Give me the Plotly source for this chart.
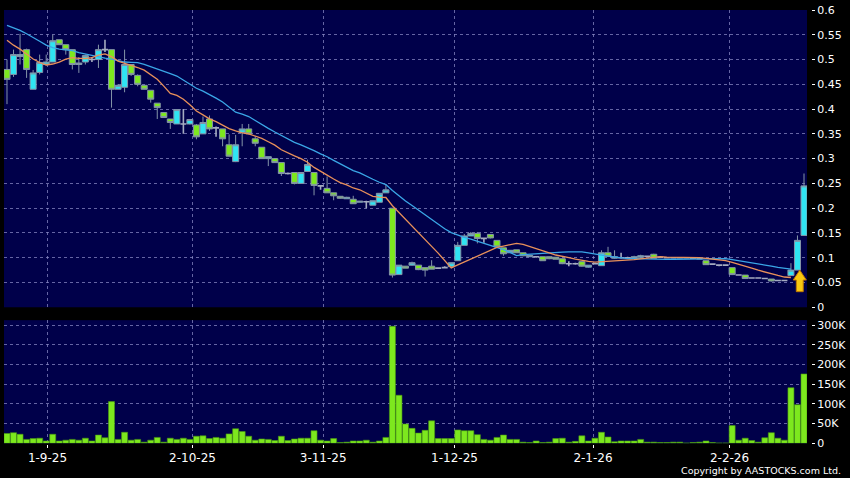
import plotly.graph_objects as go
import pandas as pd

# ---------------- data ----------------
opens = [0.48, 0.47, 0.506, 0.52, 0.44, 0.474, 0.49, 0.495, 0.54, 0.53,
         0.52, 0.49, 0.495, 0.5, 0.5, 0.52, 0.52, 0.44, 0.444, 0.49,
         0.468, 0.448, 0.438, 0.412, 0.393, 0.38, 0.37, 0.37, 0.37, 0.368,
         0.35, 0.38, 0.362, 0.36, 0.328, 0.294, 0.353, 0.36, 0.34, 0.323,
         0.3, 0.3, 0.292, 0.27, 0.272, 0.25, 0.274, 0.272, 0.245, 0.24,
         0.231, 0.224, 0.219, 0.218, 0.212, 0.213, 0.206, 0.212, 0.231, 0.2,
         0.066, 0.083, 0.085, 0.085, 0.08, 0.083, 0.079, 0.08, 0.082, 0.094,
         0.125, 0.144, 0.149, 0.139, 0.147, 0.135, 0.12, 0.11, 0.116, 0.11,
         0.102, 0.102, 0.102, 0.102, 0.101, 0.098, 0.088, 0.088, 0.092, 0.081,
         0.088, 0.084, 0.11, 0.099, 0.1, 0.1, 0.099, 0.101, 0.103, 0.107,
         0.101, 0.1, 0.1, 0.1, 0.1, 0.099, 0.098, 0.094, 0.087, 0.085,
         0.085, 0.08, 0.065, 0.065, 0.059, 0.059, 0.058, 0.057, 0.054, 0.054,
         0.064, 0.075, 0.145]
highs = [0.50, 0.52, 0.552, 0.522, 0.479, 0.51, 0.51, 0.55, 0.54, 0.53,
         0.52, 0.505, 0.51, 0.505, 0.53, 0.54, 0.52, 0.45, 0.52, 0.49,
         0.47, 0.448, 0.438, 0.412, 0.393, 0.38, 0.40, 0.40, 0.38, 0.37,
         0.385, 0.387, 0.365, 0.36, 0.349, 0.348, 0.37, 0.37, 0.345, 0.323,
         0.304, 0.3, 0.292, 0.272, 0.272, 0.272, 0.298, 0.272, 0.247, 0.264,
         0.231, 0.224, 0.223, 0.225, 0.214, 0.215, 0.215, 0.23, 0.248, 0.2,
         0.085, 0.083, 0.092, 0.085, 0.08, 0.095, 0.08, 0.083, 0.09, 0.132,
         0.148, 0.152, 0.152, 0.141, 0.147, 0.135, 0.12, 0.115, 0.116, 0.11,
         0.105, 0.103, 0.102, 0.102, 0.101, 0.098, 0.093, 0.09, 0.092, 0.085,
         0.09, 0.115, 0.122, 0.115, 0.11, 0.102, 0.104, 0.106, 0.104, 0.108,
         0.102, 0.1, 0.1, 0.1, 0.1, 0.099, 0.098, 0.094, 0.087, 0.085,
         0.085, 0.08, 0.065, 0.065, 0.059, 0.059, 0.058, 0.057, 0.054, 0.054,
         0.089, 0.145, 0.27]
lows = [0.41, 0.465, 0.49, 0.463, 0.44, 0.47, 0.488, 0.495, 0.53, 0.51,
        0.48, 0.473, 0.49, 0.495, 0.483, 0.515, 0.403, 0.44, 0.434, 0.467,
        0.446, 0.44, 0.413, 0.38, 0.383, 0.36, 0.37, 0.35, 0.369, 0.339,
        0.35, 0.356, 0.344, 0.325, 0.304, 0.293, 0.325, 0.349, 0.325, 0.3,
        0.285, 0.292, 0.265, 0.268, 0.248, 0.25, 0.273, 0.226, 0.237, 0.231,
        0.216, 0.219, 0.219, 0.209, 0.212, 0.2, 0.206, 0.212, 0.231, 0.06,
        0.066, 0.079, 0.084, 0.075, 0.062, 0.077, 0.078, 0.079, 0.082, 0.094,
        0.125, 0.144, 0.129, 0.13, 0.139, 0.122, 0.104, 0.11, 0.11, 0.103,
        0.102, 0.1, 0.094, 0.097, 0.097, 0.087, 0.083, 0.086, 0.082, 0.08,
        0.087, 0.084, 0.102, 0.098, 0.098, 0.098, 0.099, 0.1, 0.102, 0.099,
        0.1, 0.1, 0.1, 0.1, 0.1, 0.099, 0.098, 0.086, 0.087, 0.083,
        0.085, 0.065, 0.065, 0.057, 0.059, 0.059, 0.058, 0.052, 0.054, 0.054,
        0.063, 0.075, 0.145]
closes = [0.46, 0.51, 0.51, 0.48, 0.473, 0.494, 0.495, 0.538, 0.53, 0.52,
          0.49, 0.493, 0.508, 0.5, 0.52, 0.52, 0.44, 0.448, 0.49, 0.47,
          0.45, 0.44, 0.42, 0.403, 0.383, 0.373, 0.399, 0.37, 0.379, 0.344,
          0.373, 0.36, 0.362, 0.34, 0.305, 0.328, 0.36, 0.35, 0.331, 0.3,
          0.304, 0.292, 0.27, 0.27, 0.25, 0.272, 0.288, 0.246, 0.245, 0.231,
          0.225, 0.22, 0.222, 0.209, 0.214, 0.213, 0.215, 0.23, 0.237, 0.065,
          0.085, 0.079, 0.09, 0.076, 0.075, 0.077, 0.079, 0.08, 0.09, 0.125,
          0.144, 0.149, 0.139, 0.139, 0.14, 0.122, 0.108, 0.115, 0.11, 0.104,
          0.105, 0.102, 0.094, 0.098, 0.097, 0.088, 0.088, 0.088, 0.083, 0.085,
          0.088, 0.11, 0.103, 0.102, 0.1, 0.1, 0.102, 0.104, 0.103, 0.099,
          0.101, 0.1, 0.1, 0.1, 0.1, 0.099, 0.098, 0.086, 0.087, 0.085,
          0.085, 0.066, 0.065, 0.058, 0.059, 0.059, 0.058, 0.053, 0.054, 0.054,
          0.075, 0.135, 0.245]
volumes = [25000, 27000, 23000, 10000, 12000, 13000, 6000, 23000, 6000, 8000,
           10000, 8000, 13000, 6000, 21000, 14000, 106000, 10000, 28000, 8000,
           10000, 3000, 8000, 15000, 3000, 13000, 10000, 13000, 10000, 18000,
           19000, 12000, 15000, 13000, 24000, 37000, 30000, 18000, 8000, 11000,
           10000, 7000, 18000, 7000, 11000, 13000, 13000, 32000, 8000, 6000,
           12000, 2000, 3000, 6000, 6000, 8000, 3000, 6000, 15000, 297000,
           122000, 49000, 38000, 26000, 33000, 57000, 12000, 12000, 12000, 34000,
           32000, 32000, 22000, 10000, 8000, 15000, 21000, 10000, 10000, 3000,
           2000, 6000, 2000, 3000, 12000, 13000, 3000, 5000, 19000, 6000,
           13000, 28000, 16000, 4000, 6000, 6000, 6000, 10000, 3000, 3000,
           2000, 2000, 3000, 3000, 1000, 2000, 3000, 6000, 2000, 1000,
           1000, 45000, 8000, 13000, 7000, 3000, 14000, 27000, 13000, 8000,
           141000, 98000, 176000]
# moving-average values at the start of the window (read from the picture,
# they depend on closes before the first visible day)
ma10_head = [0.539, 0.529, 0.521, 0.511, 0.501, 0.494, 0.489, 0.491, 0.495]
ma20_head = [0.569, 0.564, 0.559, 0.552, 0.545, 0.537, 0.529, 0.524, 0.521, 0.52,
             0.518, 0.514, 0.511, 0.508, 0.506, 0.503, 0.501, 0.498, 0.495]
ma_last_day = 120
date_ticks = [6.2, 28.4, 48.4, 68.5, 89.7, 110.6]
date_labels = ["1-9-25", "2-10-25", "3-11-25", "1-12-25", "2-1-26", "2-2-26"]
price_ticks = [0, 0.05, 0.1, 0.15, 0.2, 0.25, 0.3, 0.35, 0.4, 0.45, 0.5, 0.55, 0.6]
price_labels = ["0", "0.05", "0.1", "0.15", "0.2", "0.25", "0.3", "0.35", "0.4",
                "0.45", "0.5", "0.55", "0.6"]
vol_ticks = [0, 50000, 100000, 150000, 200000, 250000, 300000]
vol_labels = ["0", "50K", "100K", "150K", "200K", "250K", "300K"]

# ---------------- derived ----------------
n = len(closes)
idx = list(range(n))
cs = pd.Series(closes, dtype=float)
ma10 = cs.rolling(10).mean()
ma10.iloc[:len(ma10_head)] = ma10_head
ma20 = cs.rolling(20).mean()
ma20.iloc[:len(ma20_head)] = ma20_head
ma10.iloc[ma_last_day + 1:] = None
ma20.iloc[ma_last_day + 1:] = None

up = [i for i in idx if closes[i] > opens[i]]
dn = [i for i in idx if closes[i] < opens[i]]
dj = [i for i in idx if closes[i] == opens[i]]

CYAN = "#2fe4f2"
GREEN = "#7de81e"
OUTLINE = "#8494a8"
DOJI = "#a4abc0"
BG = "#00004a"
GRID = "rgba(135,135,195,0.75)"


def sub(lst, sel):
    return [lst[i] for i in sel]


def candle(sel, fill, line, lw, name):
    return go.Candlestick(
        x=sel, open=sub(opens, sel), high=sub(highs, sel), low=sub(lows, sel),
        close=sub(closes, sel), xaxis="x", yaxis="y", name=name,
        increasing=dict(fillcolor=fill, line=dict(color=line, width=lw)),
        decreasing=dict(fillcolor=fill, line=dict(color=line, width=lw)),
        whiskerwidth=0, hoverinfo="skip", showlegend=False)


fig = go.Figure()
fig.add_trace(go.Bar(x=idx, y=volumes, xaxis="x2", yaxis="y2",
                     marker=dict(color=GREEN, line=dict(color="#4a9a10", width=0.6)),
                     hoverinfo="skip", showlegend=False))
fig.add_trace(candle(up, CYAN, OUTLINE, 1, "up"))
fig.add_trace(candle(dn, GREEN, OUTLINE, 1, "down"))
fig.add_trace(candle(dj, DOJI, DOJI, 1.6, "flat"))
fig.add_trace(go.Scatter(x=idx, y=ma20, mode="lines", xaxis="x", yaxis="y",
                         line=dict(color="#3aa6e6", width=1.3),
                         hoverinfo="skip", showlegend=False))
fig.add_trace(go.Scatter(x=idx, y=ma10, mode="lines", xaxis="x", yaxis="y",
                         line=dict(color="#e8905a", width=1.3),
                         hoverinfo="skip", showlegend=False))

# yellow marker arrow under the second-last candle
ai = n - 2
cx = ai + 0.35
tip = lows[ai]
base = tip - 0.02
bottom = tip - 0.0435
hh, hs = 1.0, 0.53
path = (f"M {cx-hh},{base} L {cx},{tip} L {cx+hh},{base} L {cx+hs},{base} "
        f"L {cx+hs},{bottom} L {cx-hs},{bottom} L {cx-hs},{base} Z")
fig.add_shape(type="path", path=path, xref="x", yref="y",
              fillcolor="#f8c810", line=dict(color="#c07800", width=1), layer="above")

W, H = 850, 478
ml, mr, mt, mb = 4, 36, 6, 31
pw = W - ml - mr
ph = H - mt - mb
xdom = [0, (810 - ml) / pw]
xr = [-0.4575, 122.46]


def ydom(top_px, bot_px):
    return [(H - mb - bot_px) / ph, (H - mb - top_px) / ph]


tickfont_y = dict(family="DejaVu Sans", size=11, color="white")
fig.update_layout(
    width=W, height=H, margin=dict(l=ml, r=mr, t=mt, b=mb),
    paper_bgcolor="black", plot_bgcolor=BG,
    boxgap=0.04, boxgroupgap=0.04, bargap=0.08,
    hovermode=False, showlegend=False,
    xaxis=dict(domain=xdom, anchor="y", range=xr, rangeslider=dict(visible=False),
               tickvals=date_ticks, showticklabels=False, ticks="",
               showgrid=True, gridcolor=GRID, griddash="3px,3px", gridwidth=1,
               zeroline=False, showline=False),
    xaxis2=dict(domain=xdom, anchor="free", position=(H - mb - 444) / ph,
                matches="x", range=xr,
                tickvals=date_ticks, ticktext=date_labels, ticks="outside",
                ticklen=3, tickcolor="white", tickwidth=1,
                tickfont=dict(family="DejaVu Sans", size=12, color="white"),
                showgrid=True, gridcolor=GRID, griddash="3px,3px", gridwidth=1,
                zeroline=False, showline=False),
    yaxis=dict(domain=ydom(6, 306), anchor="free", position=1, side="right",
               range=[0, 0.6], tickvals=price_ticks, ticktext=price_labels,
               ticks="outside", ticklen=3, tickcolor="white", tickfont=tickfont_y,
               ticklabeloverflow="allow",
               showgrid=True, gridcolor=GRID, griddash="3px,3px", gridwidth=1,
               zeroline=False, showline=False),
    yaxis2=dict(domain=ydom(319, 443.3), anchor="free", position=1, side="right",
                range=[0, 312600], tickvals=vol_ticks, ticktext=vol_labels,
                ticks="outside", ticklen=3, tickcolor="white", tickfont=tickfont_y,
                ticklabeloverflow="allow",
                showgrid=True, gridcolor=GRID, griddash="3px,3px", gridwidth=1,
                zeroline=False, showline=False),
)
fig.add_annotation(text="Copyright by AASTOCKS.com Ltd.", xref="paper", yref="paper",
                   x=(846 - ml) / pw, y=-(471 - (H - mb)) / ph, xanchor="right",
                   yanchor="middle", showarrow=False,
                   font=dict(family="DejaVu Sans", size=9.5, color="white"))

fig.write_html("out.html", config={"displayModeBar": False})
with open("out.html", encoding="utf-8") as f:
    html = f.read()
html = html.replace("<head>", "<head><style>html,body{margin:0;padding:0;background:#000;overflow:hidden}</style>", 1)
with open("out.html", "w", encoding="utf-8") as f:
    f.write(html)
